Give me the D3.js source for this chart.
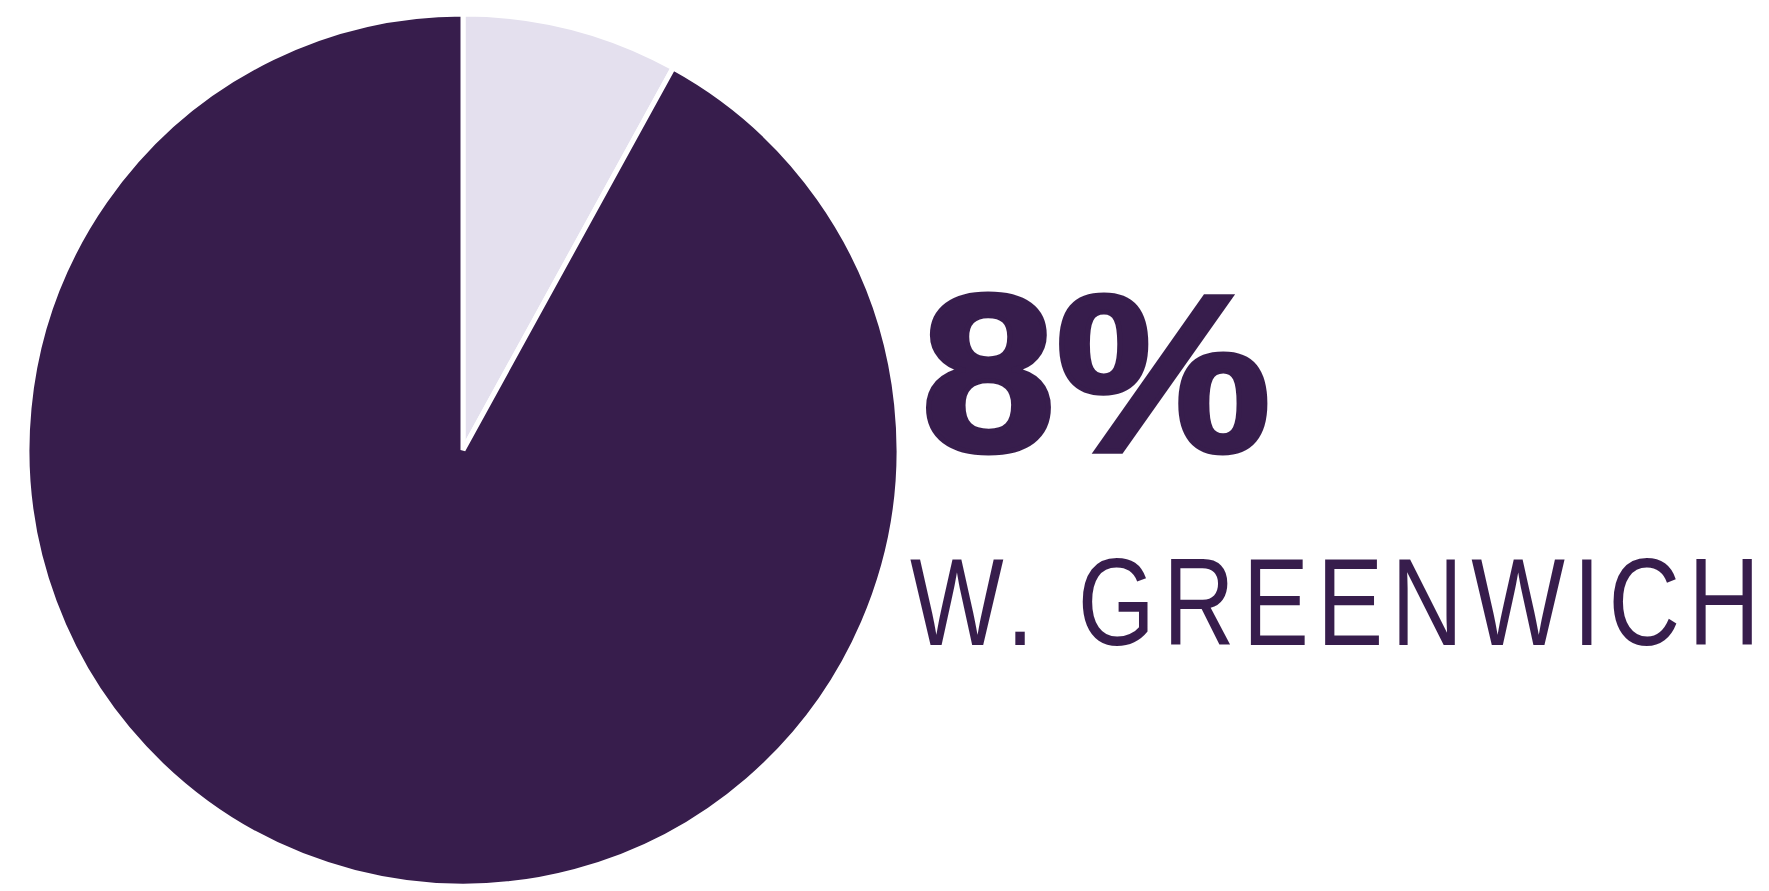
<!DOCTYPE html>
<html><head><meta charset="utf-8">
<script src="https://cdn.jsdelivr.net/npm/d3@7"></script>
<style>html,body{margin:0;padding:0;background:#fff;overflow:hidden}</style>
</head><body><svg id="c" width="1769" height="891"></svg>
<script>
const categories = ["W. Greenwich", "Other"];
const values = [8, 92];
const colors = ["#e4e0ee", "#371d4c"];
const valueLabel = "8%";
const nameLabel = "W. GREENWICH";

function hasFont(name, weight) {
  const ctx = document.createElement("canvas").getContext("2d");
  const s = "WGREENWICH 8% mmmmiiii";
  ctx.font = `${weight} 72px monospace`;
  const a = ctx.measureText(s).width;
  ctx.font = `${weight} 72px "${name}", monospace`;
  const b = ctx.measureText(s).width;
  ctx.font = `${weight} 72px serif`;
  const c = ctx.measureText(s).width;
  ctx.font = `${weight} 72px "${name}", serif`;
  const d = ctx.measureText(s).width;
  return a !== b || c !== d;
}
function pick(list, weight) {
  for (const f of list) if (hasFont(f, weight)) return f;
  return "sans-serif";
}

const svg = d3.select("#c");
const cx = 463, cy = 450, r = 436;
const pie = d3.pie().sort(null).value(d => d)(values);
const arc = d3.arc().innerRadius(0).outerRadius(r);
const g = svg.append("g").attr("transform", `translate(${cx},${cy})`);
g.selectAll("path").data(pie).join("path")
  .attr("d", arc)
  .attr("fill", (d, i) => colors[i])
  .attr("stroke", "#fff")
  .attr("stroke-width", 5)
  .attr("stroke-linejoin", "miter");

const boldFont = pick(["Liberation Sans", "Arial", "Helvetica", "Roboto", "Inter"], 700);
svg.append("text")
  .attr("x", 921).attr("y", 451)
  .style("font-family", `"${boldFont}", sans-serif`)
  .style("font-weight", 700)
  .style("font-size", "224px")
  .attr("fill", colors[1])
  .attr("stroke", colors[1]).attr("stroke-width", 5)
  .attr("textLength", 350).attr("lengthAdjust", "spacingAndGlyphs")
  .text(valueLabel);

const narrow = pick(["Liberation Sans Narrow", "Arial Narrow"], 400);
let nameFont, sx;
if (narrow !== "sans-serif") { nameFont = narrow; sx = 1; }
else { nameFont = pick(["Liberation Sans", "Arial", "Roboto", "Noto Sans"], 400); sx = 0.8; }
const x0 = 910, totalLen = 850;
svg.append("text")
  .attr("transform", `translate(${x0},645) scale(${sx},1)`)
  .attr("x", 0).attr("y", 0)
  .style("font-family", `"${nameFont}", sans-serif`)
  .style("font-size", "124px")
  .attr("fill", colors[1])
  .attr("textLength", totalLen / sx).attr("lengthAdjust", "spacing")
  .text(nameLabel);
</script></body></html>
